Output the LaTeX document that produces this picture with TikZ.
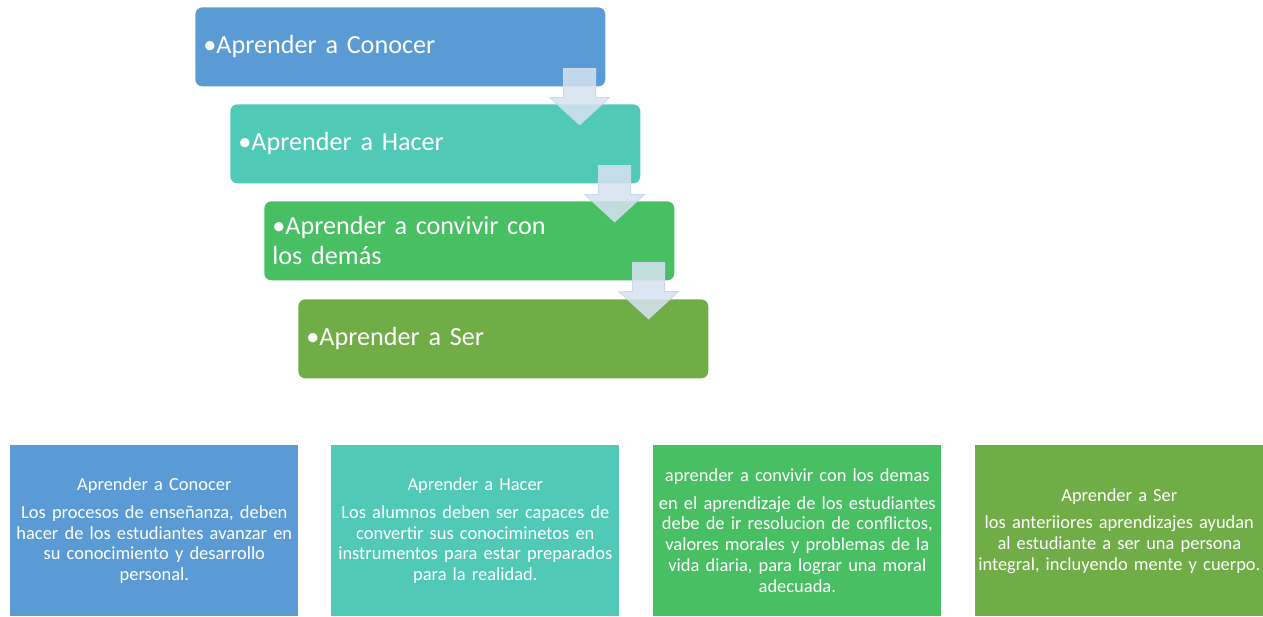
\documentclass[tikz,border=0pt]{standalone}
\usepackage{fontspec}
\setmainfont{Carlito}
\usepackage{tikz}
\usetikzlibrary{calc, positioning}
\definecolor{conocer}{HTML}{5B9BD5}
\definecolor{hacer}{HTML}{50CAB6}
\definecolor{convivir}{HTML}{49BF64}
\definecolor{ser}{HTML}{70AD47}
\definecolor{flecha}{HTML}{D6E2F1}
\definecolor{flechaborde}{HTML}{CCD9EC}
\tikzstyle{paso} = [rectangle, rounded corners=4pt, minimum width=8.2cm, minimum height=1.58cm, inner xsep=0.16cm, text width=7.88cm, align=left, text=white, font=\fontsize{14.9}{17}\selectfont, anchor=north west]
\tikzstyle{detalle} = [rectangle, minimum width=5.76cm, minimum height=3.42cm, inner xsep=0pt, text width=5.7cm, align=center, text=white, font=\fontsize{10.5}{11.9}\selectfont, anchor=north west]
\tikzstyle{bajada} = [fill=flecha, fill opacity=0.85, draw=flechaborde, line width=0.6pt]

\begin{document}
\begin{tikzpicture}[x=0.02cm, y=0.02cm]
	\useasboundingbox (0,0) rectangle (1263,-616);
	% escalera de aprendizajes
	\node (Conocer) [paso, fill=conocer] at (195,-7) {\textbullet Aprender a Conocer};
	\node (Hacer) [paso, fill=hacer] at (230,-104) {\textbullet Aprender a Hacer};
	\node (Convivir) [paso, fill=convivir] at (264,-201) {\textbullet Aprender a convivir con\\los demás};
	\node (Ser) [paso, fill=ser] at (298,-299) {\textbullet Aprender a Ser};
	% flechas entre pasos
	\foreach \desde in {Conocer, Hacer, Convivir}
		\draw [bajada] ($(\desde.south east)+(-42,18)$) -- ++(32,0) -- ++(0,-29) -- ++(13.5,0) -- ++(-29.5,-27) -- ++(-29.5,27) -- ++(13.5,0) -- cycle;
	% descripciones
	\node (DetConocer) [detalle, fill=conocer] at (10,-445) {Aprender a Conocer\\[3.7pt]Los procesos de enseñanza, deben\\hacer de los estudiantes avanzar en\\su conocimiento y desarrollo\\personal.};
	\node (DetHacer) [detalle, fill=hacer] at (331,-445) {Aprender a Hacer\\[3.7pt]Los alumnos deben ser capaces de\\convertir sus conociminetos en\\instrumentos para estar preparados\\para la realidad.};
	\node (DetConvivir) [detalle, fill=convivir] at (653,-445) {aprender a convivir con los demas\\[3.7pt]en el aprendizaje de los estudiantes\\debe de ir resolucion de conflictos,\\valores morales y problemas de la\\vida diaria, para lograr una moral\\adecuada.};
	\node (DetSer) [detalle, fill=ser] at (975,-445) {Aprender a Ser\\[3.7pt]los anteriiores aprendizajes ayudan\\al estudiante a ser una persona\\integral, incluyendo mente y cuerpo.};
\end{tikzpicture}
\end{document}
